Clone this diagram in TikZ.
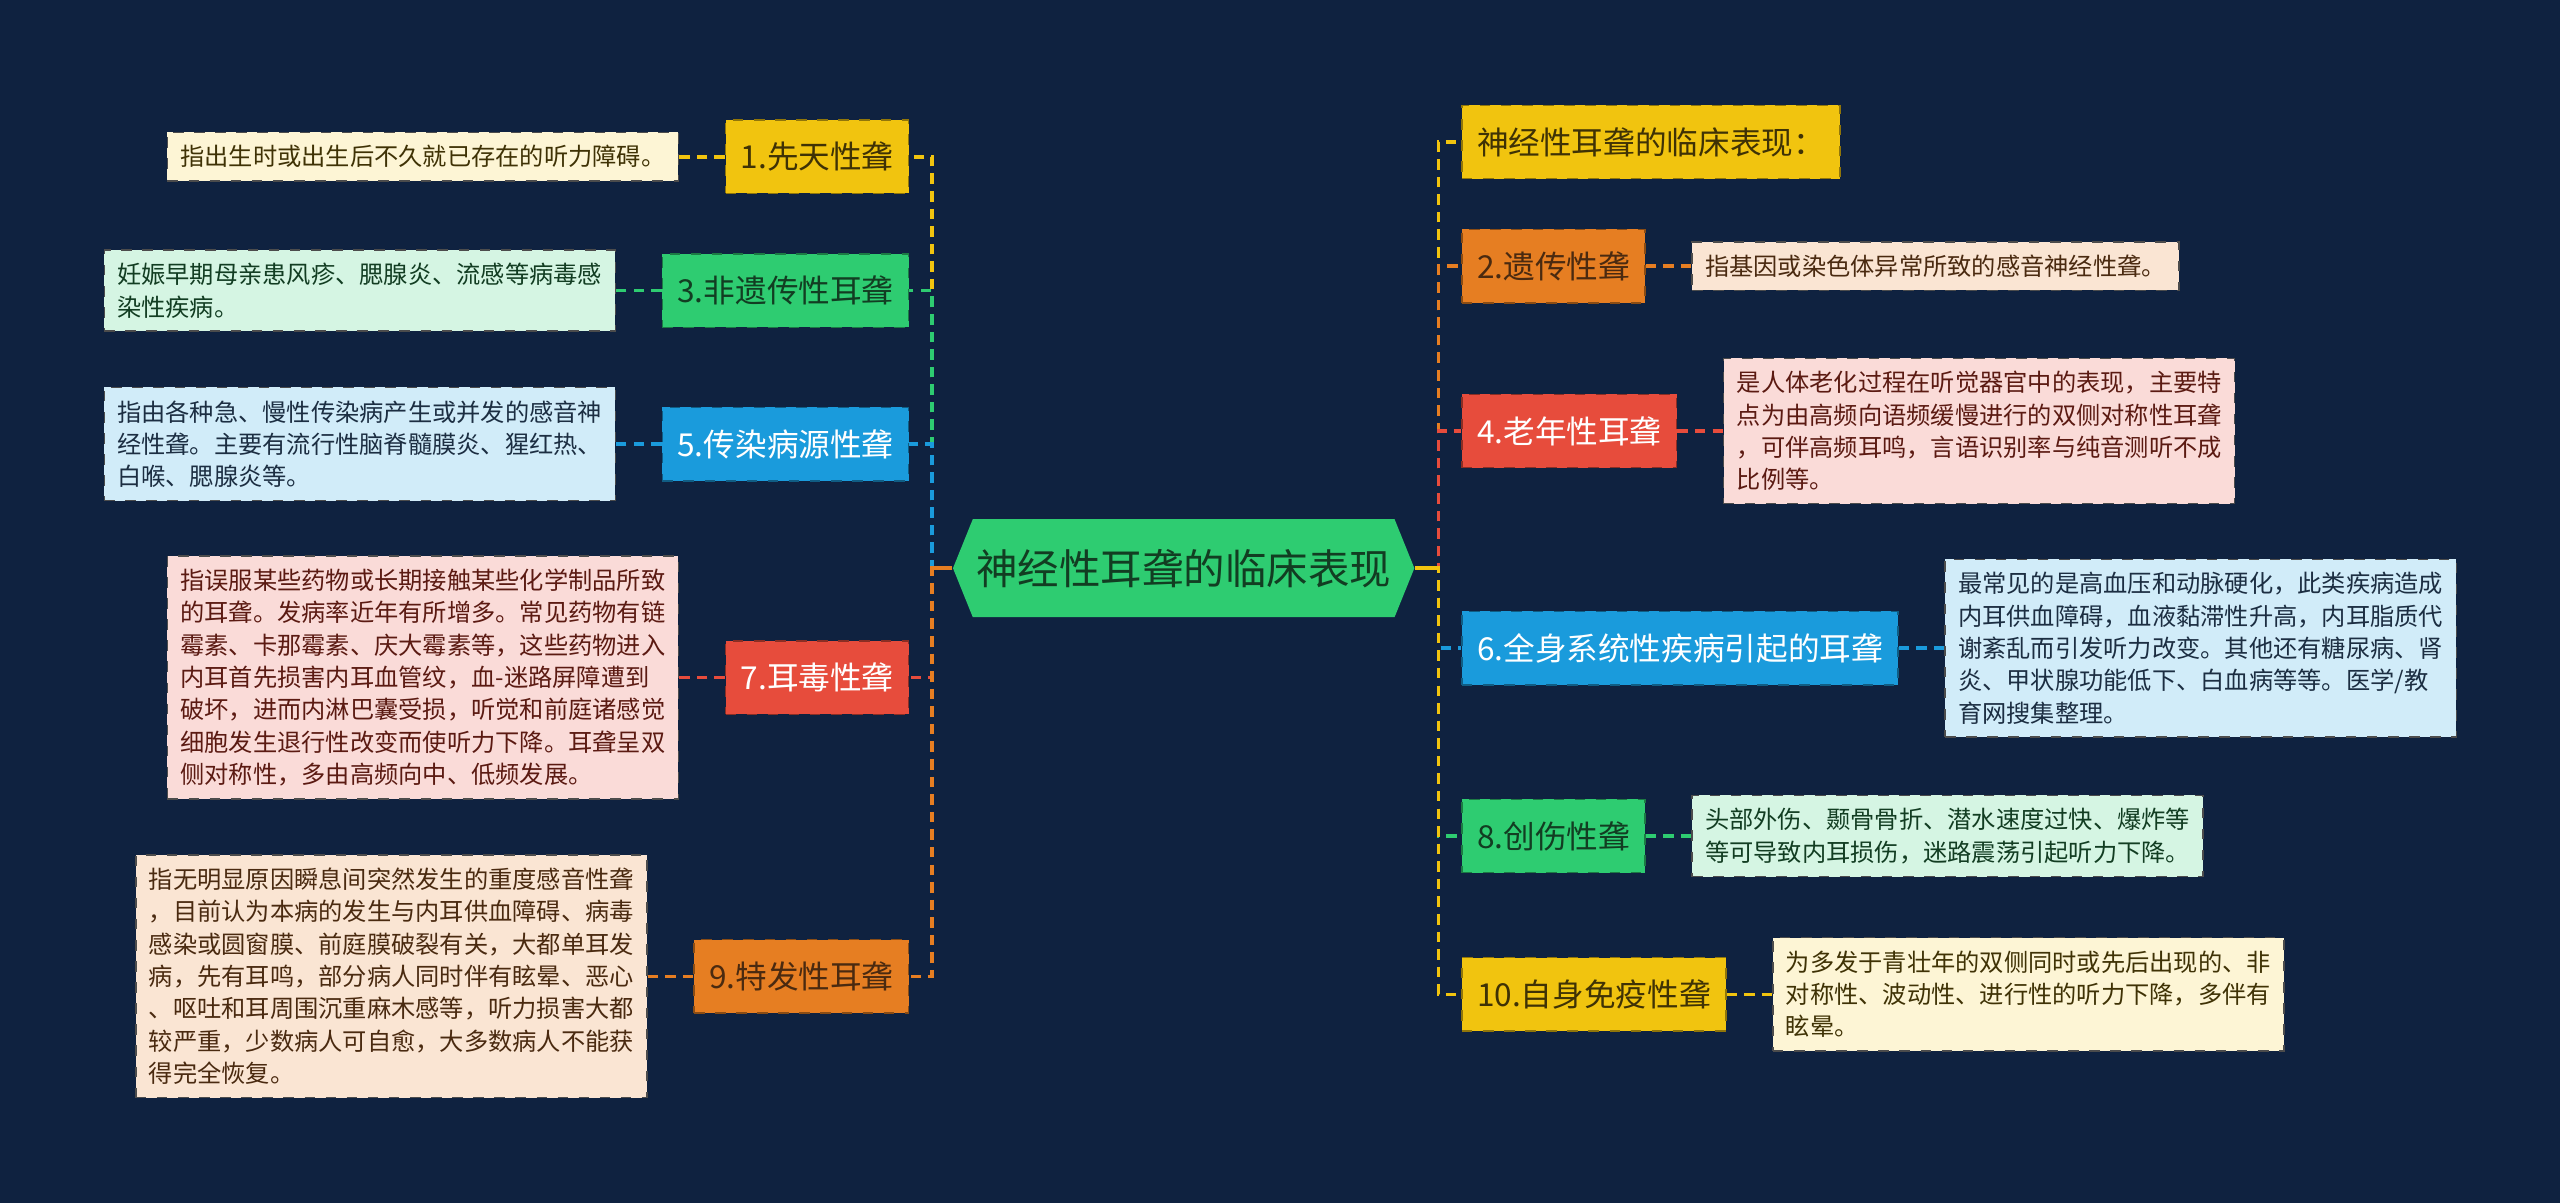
\documentclass[tikz,border=0pt]{standalone}
\usepackage{fontspec}
\setmainfont{Noto Sans CJK SC}
\usepackage{tikz}
\usetikzlibrary{positioning,shapes.symbols,calc}
\usepackage{xcolor}
\definecolor{bgnavy}{HTML}{0F2240}
\definecolor{yel}{HTML}{F1C40F}
\definecolor{grn}{HTML}{2ECC71}
\definecolor{blu}{HTML}{1A9BDC}
\definecolor{red}{HTML}{E74C3C}
\definecolor{org}{HTML}{E67E22}
\definecolor{yellt}{HTML}{FDF5D5}
\definecolor{grnlt}{HTML}{D5F5E3}
\definecolor{blult}{HTML}{D1ECF9}
\definecolor{redlt}{HTML}{FADBD8}
\definecolor{orglt}{HTML}{FAE5D3}
\definecolor{ytxt}{HTML}{3F3205}
\definecolor{gtxt}{HTML}{123D22}
\definecolor{btxt}{HTML}{1C2E42}
\definecolor{rtxt}{HTML}{5B1A12}
\definecolor{otxt}{HTML}{4A2A10}

\begin{document}
\begin{tikzpicture}[x=0.01633cm,y=-0.01633cm,
  branch/.style 2 args={draw=#1!60!black, dashed, fill=#1, text=#2,
    font=\fontsize{9}{11}\selectfont, minimum height=20.9pt,
    inner xsep=4.3pt, inner ysep=0pt},
  note/.style 2 args={draw=gray!60!black, dashed, fill=#1, text=#2,
    font=\fontsize{6.9}{9.2}\selectfont, align=left,
    inner xsep=3.7pt, inner ysep=3.7pt},
  link/.style={draw=#1, dashed, dash pattern=on 3pt off 2pt, line width=1pt}]
  % background
  \fill[bgnavy] (0,0) rectangle (1568,737);
  \useasboundingbox (0,0) rectangle (1568,737);

  % root
  \node[signal, signal to=west and east, signal pointer angle=136,
    fill=grn, text=gtxt, inner xsep=1pt, minimum width=126pt, minimum height=27.9pt,
    font=\fontsize{11.8}{14}\selectfont] (root) at (725,348) {神经性耳聋的临床表现};
  \coordinate (lt) at (571,348);
  \coordinate (rt) at (881,348);

  % left branches
  \node[branch={yel}{ytxt}, anchor=east] (b1) at (557,96) {1.先天性聋};
  \node[branch={grn}{gtxt}, anchor=east] (b3) at (557,178) {3.非遗传性耳聋};
  \node[branch={blu}{white}, anchor=east] (b5) at (557,272) {5.传染病源性聋};
  \node[branch={red}{white}, anchor=east] (b7) at (557,415) {7.耳毒性聋};
  \node[branch={org}{otxt}, anchor=east] (b9) at (557,598) {9.特发性耳聋};

  \node[note={yellt}{ytxt}, left=13pt of b1] (d1) {指出生时或出生后不久就已存在的听力障碍。};
  \node[note={grnlt}{gtxt}, left=13pt of b3] (d3) {妊娠早期母亲患风疹、腮腺炎、流感等病毒感\\染性疾病。};
  \node[note={blult}{btxt}, left=13pt of b5] (d5) {指由各种急、慢性传染病产生或并发的感音神\\经性聋。主要有流行性脑脊髓膜炎、猩红热、\\白喉、腮腺炎等。};
  \node[note={redlt}{rtxt}, left=13pt of b7] (d7) {指误服某些药物或长期接触某些化学制品所致\\的耳聋。发病率近年有所增多。常见药物有链\\霉素、卡那霉素、庆大霉素等，这些药物进入\\内耳首先损害内耳血管纹，血-迷路屏障遭到\\破坏，进而内淋巴囊受损，听觉和前庭诸感觉\\细胞发生退行性改变而使听力下降。耳聋呈双\\侧对称性，多由高频向中、低频发展。};
  \node[note={orglt}{otxt}, left=13pt of b9] (d9) {指无明显原因瞬息间突然发生的重度感音性聋\\，目前认为本病的发生与内耳供血障碍、病毒\\感染或圆窗膜、前庭膜破裂有关，大都单耳发\\病，先有耳鸣，部分病人同时伴有眩晕、恶心\\、呕吐和耳周围沉重麻木感等，听力损害大都\\较严重，少数病人可自愈，大多数病人不能获\\得完全恢复。};

  % right branches
  \node[branch={yel}{ytxt}, anchor=west] (c0) at (895,87) {神经性耳聋的临床表现：};
  \node[branch={org}{otxt}, anchor=west] (c2) at (895,163) {2.遗传性聋};
  \node[branch={red}{white}, anchor=west] (c4) at (895,264) {4.老年性耳聋};
  \node[branch={blu}{white}, anchor=west] (c6) at (895,397) {6.全身系统性疾病引起的耳聋};
  \node[branch={grn}{gtxt}, anchor=west] (c8) at (895,512) {8.创伤性聋};
  \node[branch={yel}{ytxt}, anchor=west] (c10) at (895,609) {10.自身免疫性聋};

  \node[note={orglt}{otxt}, right=13pt of c2] (e2) {指基因或染色体异常所致的感音神经性聋。};
  \node[note={redlt}{rtxt}, right=13pt of c4] (e4) {是人体老化过程在听觉器官中的表现，主要特\\点为由高频向语频缓慢进行的双侧对称性耳聋\\，可伴高频耳鸣，言语识别率与纯音测听不成\\比例等。};
  \node[note={blult}{btxt}, right=13pt of c6] (e6) {最常见的是高血压和动脉硬化，此类疾病造成\\内耳供血障碍，血液黏滞性升高，内耳脂质代\\谢紊乱而引发听力改变。其他还有糖尿病、肾\\炎、甲状腺功能低下、白血病等等。医学/教\\育网搜集整理。};
  \node[note={grnlt}{gtxt}, right=13pt of c8] (e8) {头部外伤、颞骨骨折、潜水速度过快、爆炸等\\等可导致内耳损伤，迷路震荡引起听力下降。};
  \node[note={yellt}{ytxt}, right=13pt of c10] (e10) {为多发于青壮年的双侧同时或先后出现的、非\\对称性、波动性、进行性的听力下降，多伴有\\眩晕。};

  % trunk links, left
  \draw[link=yel] (root.west) -- (lt) |- (b1.east);
  \draw[link=grn] (root.west) -- (lt) |- (b3.east);
  \draw[link=blu] (root.west) -- (lt) |- (b5.east);
  \draw[link=red] (root.west) -- (lt) |- (b7.east);
  \draw[link=org] (root.west) -- (lt) |- (b9.east);
  \draw[org, line width=1pt] (root.west) -- (lt);
  % trunk links, right
  \draw[link=yel] (root.east) -- (rt) |- (c0.west);
  \draw[link=org] (root.east) -- (rt) |- (c2.west);
  \draw[link=red] (root.east) -- (rt) |- (c4.west);
  \draw[link=blu] (root.east) -- (rt) |- (c6.west);
  \draw[link=grn] (root.east) -- (rt) |- (c8.west);
  \draw[link=yel] (root.east) -- (rt) |- (c10.west);
  \draw[yel, line width=1pt] (root.east) -- (rt);

  % note links
  \draw[link=yel] (b1) -- (d1);
  \draw[link=grn] (b3) -- (d3);
  \draw[link=blu] (b5) -- (d5);
  \draw[link=red] (b7) -- (d7);
  \draw[link=org] (b9) -- (d9);
  \draw[link=org] (c2) -- (e2);
  \draw[link=red] (c4) -- (e4);
  \draw[link=blu] (c6) -- (e6);
  \draw[link=grn] (c8) -- (e8);
  \draw[link=yel] (c10) -- (e10);
\end{tikzpicture}
\end{document}
